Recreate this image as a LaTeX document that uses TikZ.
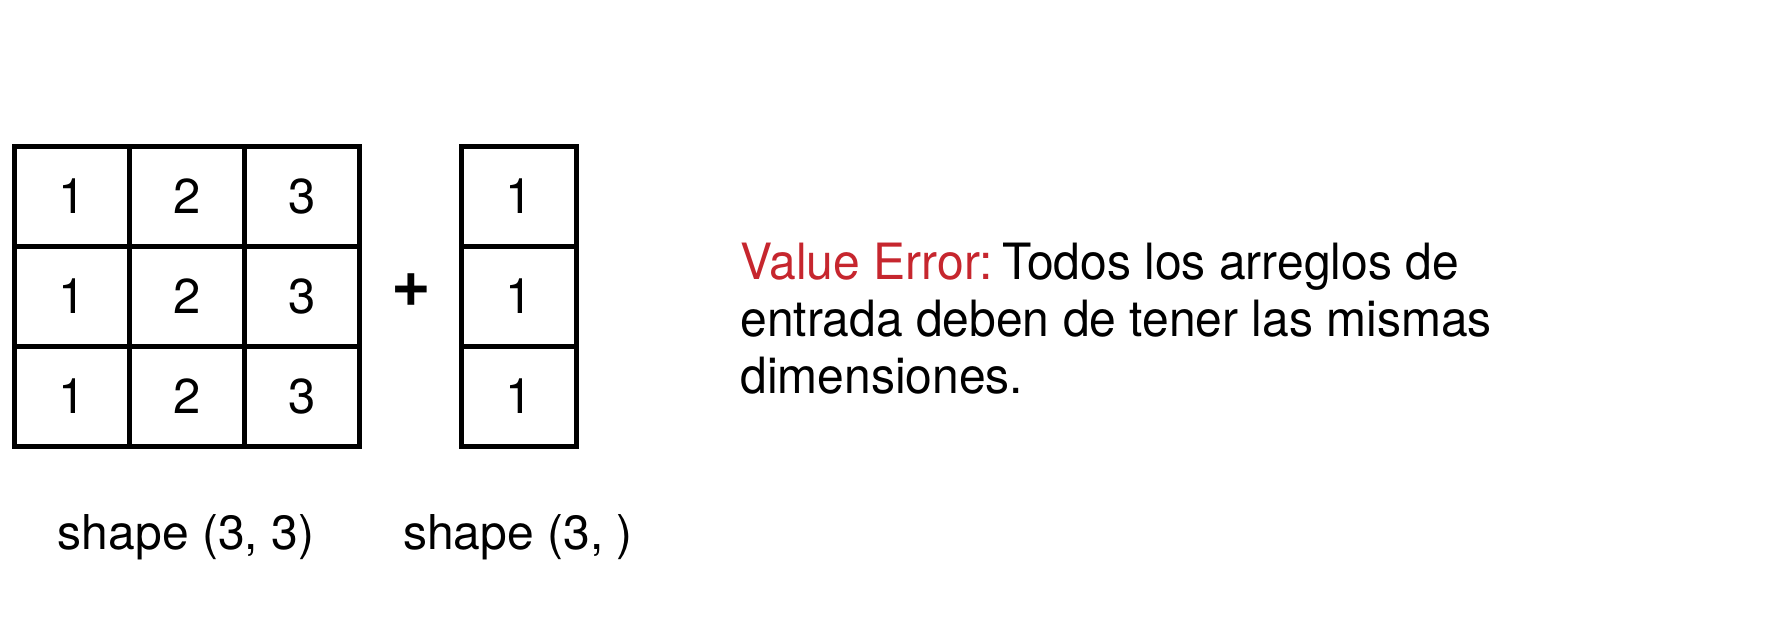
\documentclass[tikz,border=0pt]{standalone}
\usepackage{fontspec}
\setmainfont{TeX Gyre Heros}
\newfontfamily\errfont{TeX Gyre Heros}[FakeStretch=0.96]
\definecolor{errred}{RGB}{198,38,46}
\begin{document}
\begin{tikzpicture}[x=0.5pt,y=-0.5pt,
  cell/.style={draw=black,line width=2.5pt,minimum width=57.5pt,minimum height=50pt,inner sep=0pt,font=\fontsize{24.5}{28}\selectfont},
  lbl/.style={anchor=base,inner sep=0pt,font=\fontsize{24}{28}\selectfont},
  errline/.style={anchor=base west,inner sep=0pt,font=\errfont\fontsize{25}{29}\selectfont}]
\useasboundingbox (0,0) rectangle (1770,643);
% 3x3 grid
\foreach \r/\y in {1/196.5,2/296.5,3/396.5}{
  \node[cell] (a\r1) at (72,\y) {1};
  \node[cell] (a\r2) at (187,\y) {2};
  \node[cell] (a\r3) at (302,\y) {3};
}
% column
\foreach \r/\y in {1/196.5,2/296.5,3/396.5}{
  \node[cell] (b\r) at (519,\y) {1};
}
\node[inner sep=0pt,font=\fontsize{34}{38}\selectfont\bfseries] (plus) at (411,290) {+};
\node[lbl] (s1) at (186,549) {shape (3, 3)};
\node[lbl] (s2) at (518,549) {shape (3, )};
\node[errline] (e1) at (740,279) {\textcolor{errred}{Value Error:}\hspace{-4pt} Todos los arreglos de};
\node[errline] (e2) at (740,336) {entrada deben de tener las mismas};
\node[errline] (e3) at (740,393) {dimensiones.};
\end{tikzpicture}
\end{document}
